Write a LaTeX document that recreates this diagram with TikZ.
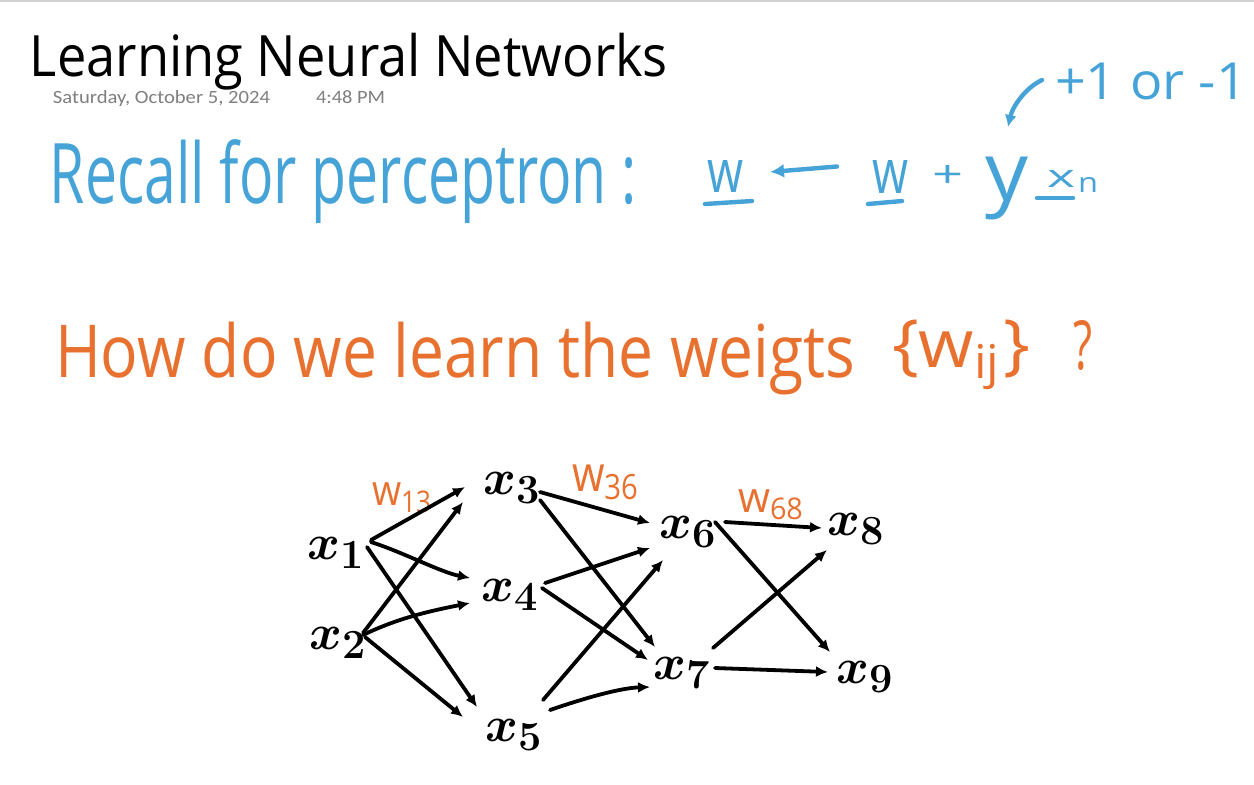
\documentclass[tikz,border=0pt]{standalone}
\usepackage{fontspec}
\setmainfont{Open Sans}
\newfontfamily\datefont{Carlito}
\usetikzlibrary{arrows.meta,calc}
\definecolor{inkblue}{HTML}{45A3D8}
\definecolor{inkorange}{HTML}{E8712F}
\definecolor{dategray}{HTML}{7F7F7F}
\newcommand{\fitbox}[3]{\resizebox*{\dimexpr#1pt/2\relax}{\dimexpr#2pt/2\relax}{#3}}
\begin{document}
\begin{tikzpicture}[x=0.5pt,y=-0.5pt,
  txt/.style={anchor=north west, inner sep=0pt, outer sep=0pt},
  lbl/.style={inner sep=0pt, outer sep=0pt, font=\fontsize{28}{30}\selectfont\boldmath},
  link/.style={line width=1.9pt, line cap=round, -{Latex[length=6pt,width=5.5pt]}},
  uline/.style={line width=2.2pt, line cap=round, inkblue},
]
\useasboundingbox (0,0) rectangle (1254,784);
\fill[white] (0,0) rectangle (1254,784);
\draw[gray!35, line width=0.6pt] (0,1) -- (1254,1);

% title and date
\node[txt] (title) at (30,33) {\fitbox{638}{57}{Learning Neural Networks}};
\node[txt, text=dategray] (date) at (53,91) {\fitbox{217}{16}{\datefont Saturday, October 5, 2024}};
\node[txt, text=dategray] (time) at (316,91) {\fitbox{69}{13}{\datefont 4:48 PM}};

% blue perceptron rule
\node[txt, text=inkblue] (recall) at (50,140) {\fitbox{587}{84}{Recall for perceptron :}};
\node[txt, text=inkblue] (wa) at (707,160) {\fitbox{36}{32}{w}};
\node[txt, text=inkblue] (wb) at (872,160) {\fitbox{36}{33}{w}};
\node[txt, text=inkblue] (plus) at (932,165) {\fitbox{31}{22}{+}};
\node[txt, text=inkblue] (ty) at (985,157) {\fitbox{43}{63}{y}};
\node[txt, text=inkblue] (tx) at (1047,170) {\fitbox{28}{17}{x}};
\node[txt, text=inkblue] (tn) at (1078,177) {\fitbox{20}{15}{n}};
\node[txt, text=inkblue] (pm) at (1055,63) {\fitbox{192}{37}{+1 or -1}};
\draw[uline] ($(wa.south west)+(-2,12)$) -- ($(wa.south east)+(9,9)$);
\draw[uline] ($(wb.south west)+(-4,11)$) -- ($(wb.south east)+(-6,8)$);
\draw[uline] ($(tx.south west)+(-10,11)$) -- ($(tx.south east)+(-2,11)$);
\draw[uline, -{Latex[length=7pt,width=7pt]}] ($(wb.west)+(-35,-10)$) -- ($(wa.east)+(27,-4)$);
\draw[uline, -{Latex[length=6pt,width=6pt]}] ($(pm.north west)+(-13,17)$) .. controls ($(pm.north west)+(-30,25)$) and ($(ty.north)+(6,-50)$) .. ($(ty.north)+(1.5,-30)$);

% orange question
\node[txt, text=inkorange] (how) at (55,322) {\fitbox{800}{73}{How do we learn the weigts}};
\node[txt, text=inkorange] (wij) at (892,320) {\fitbox{138}{70}{\{w\textsubscript{ij}\}}};
\node[txt, text=inkorange] (qm) at (1073,320) {\fitbox{19}{50}{?}};

% network nodes
\node[lbl] (x1) at (336,553) {$x_1$};
\node[lbl] (x2) at (338,643) {$x_2$};
\node[lbl] (x3) at (512,488) {$x_3$};
\node[lbl] (x4) at (510,595) {$x_4$};
\node[lbl] (x5) at (514,735) {$x_5$};
\node[lbl] (x6) at (688,532) {$x_6$};
\node[lbl] (x7) at (682,673) {$x_7$};
\node[lbl] (x8) at (856,529) {$x_8$};
\node[lbl] (x9) at (865,677) {$x_9$};

% weight labels
\node[txt, text=inkorange] (w13) at (372,483) {\fitbox{61}{30}{w\textsubscript{13}}};
\node[txt, text=inkorange] (w36) at (572,465) {\fitbox{68}{35}{w\textsubscript{36}}};
\node[txt, text=inkorange] (w68) at (738,490) {\fitbox{67}{30}{w\textsubscript{68}}};

% layer 1 -> 2
\draw[link] ($(x1)+(35,-13)$) -- ($(x3)+(-47,-1)$);
\draw[link] ($(x1)+(35,-11)$) .. controls ($(x1)+(69,0)$) and ($(x4)+(-70,-23)$) .. ($(x4)+(-40,-17)$);
\draw[link] ($(x1)+(31,-6)$) -- ($(x5)+(-37,-28)$);
\draw[link] ($(x2)+(25,-10)$) -- ($(x3)+(-49,14)$);
\draw[link] ($(x2)+(25,-8)$) .. controls ($(x2)+(60,-25)$) and ($(x4)+(-80,16)$) .. ($(x4)+(-40,8)$);
\draw[link] ($(x2)+(27,-6)$) -- ($(x5)+(-51,-18)$);

% layer 2 -> 3
\draw[link] ($(x3)+(28,4)$) -- ($(x6)+(-38,-9)$);
\draw[link] ($(x3)+(28,12)$) -- ($(x7)+(-27,-26)$);
\draw[link] ($(x4)+(35,-12)$) -- ($(x6)+(-38,16)$);
\draw[link] ($(x4)+(32,-7)$) -- ($(x7)+(-34,-13)$);
\draw[link] ($(x5)+(29,-35)$) -- ($(x6)+(-25,28)$);
\draw[link] ($(x5)+(36,-25)$) .. controls ($(x5)+(71,-37)$) and ($(x7)+(-62,15)$) .. ($(x7)+(-32,14)$);

% layer 3 -> 4
\draw[link] ($(x6)+(37,-10)$) -- ($(x8)+(-34,-1)$);
\draw[link] ($(x6)+(27,-10)$) -- ($(x9)+(-35,-25)$);
\draw[link] ($(x7)+(31,-25)$) -- ($(x8)+(-29,21)$);
\draw[link] ($(x7)+(33,-5)$) -- ($(x9)+(-37,-5)$);
\end{tikzpicture}
\end{document}
